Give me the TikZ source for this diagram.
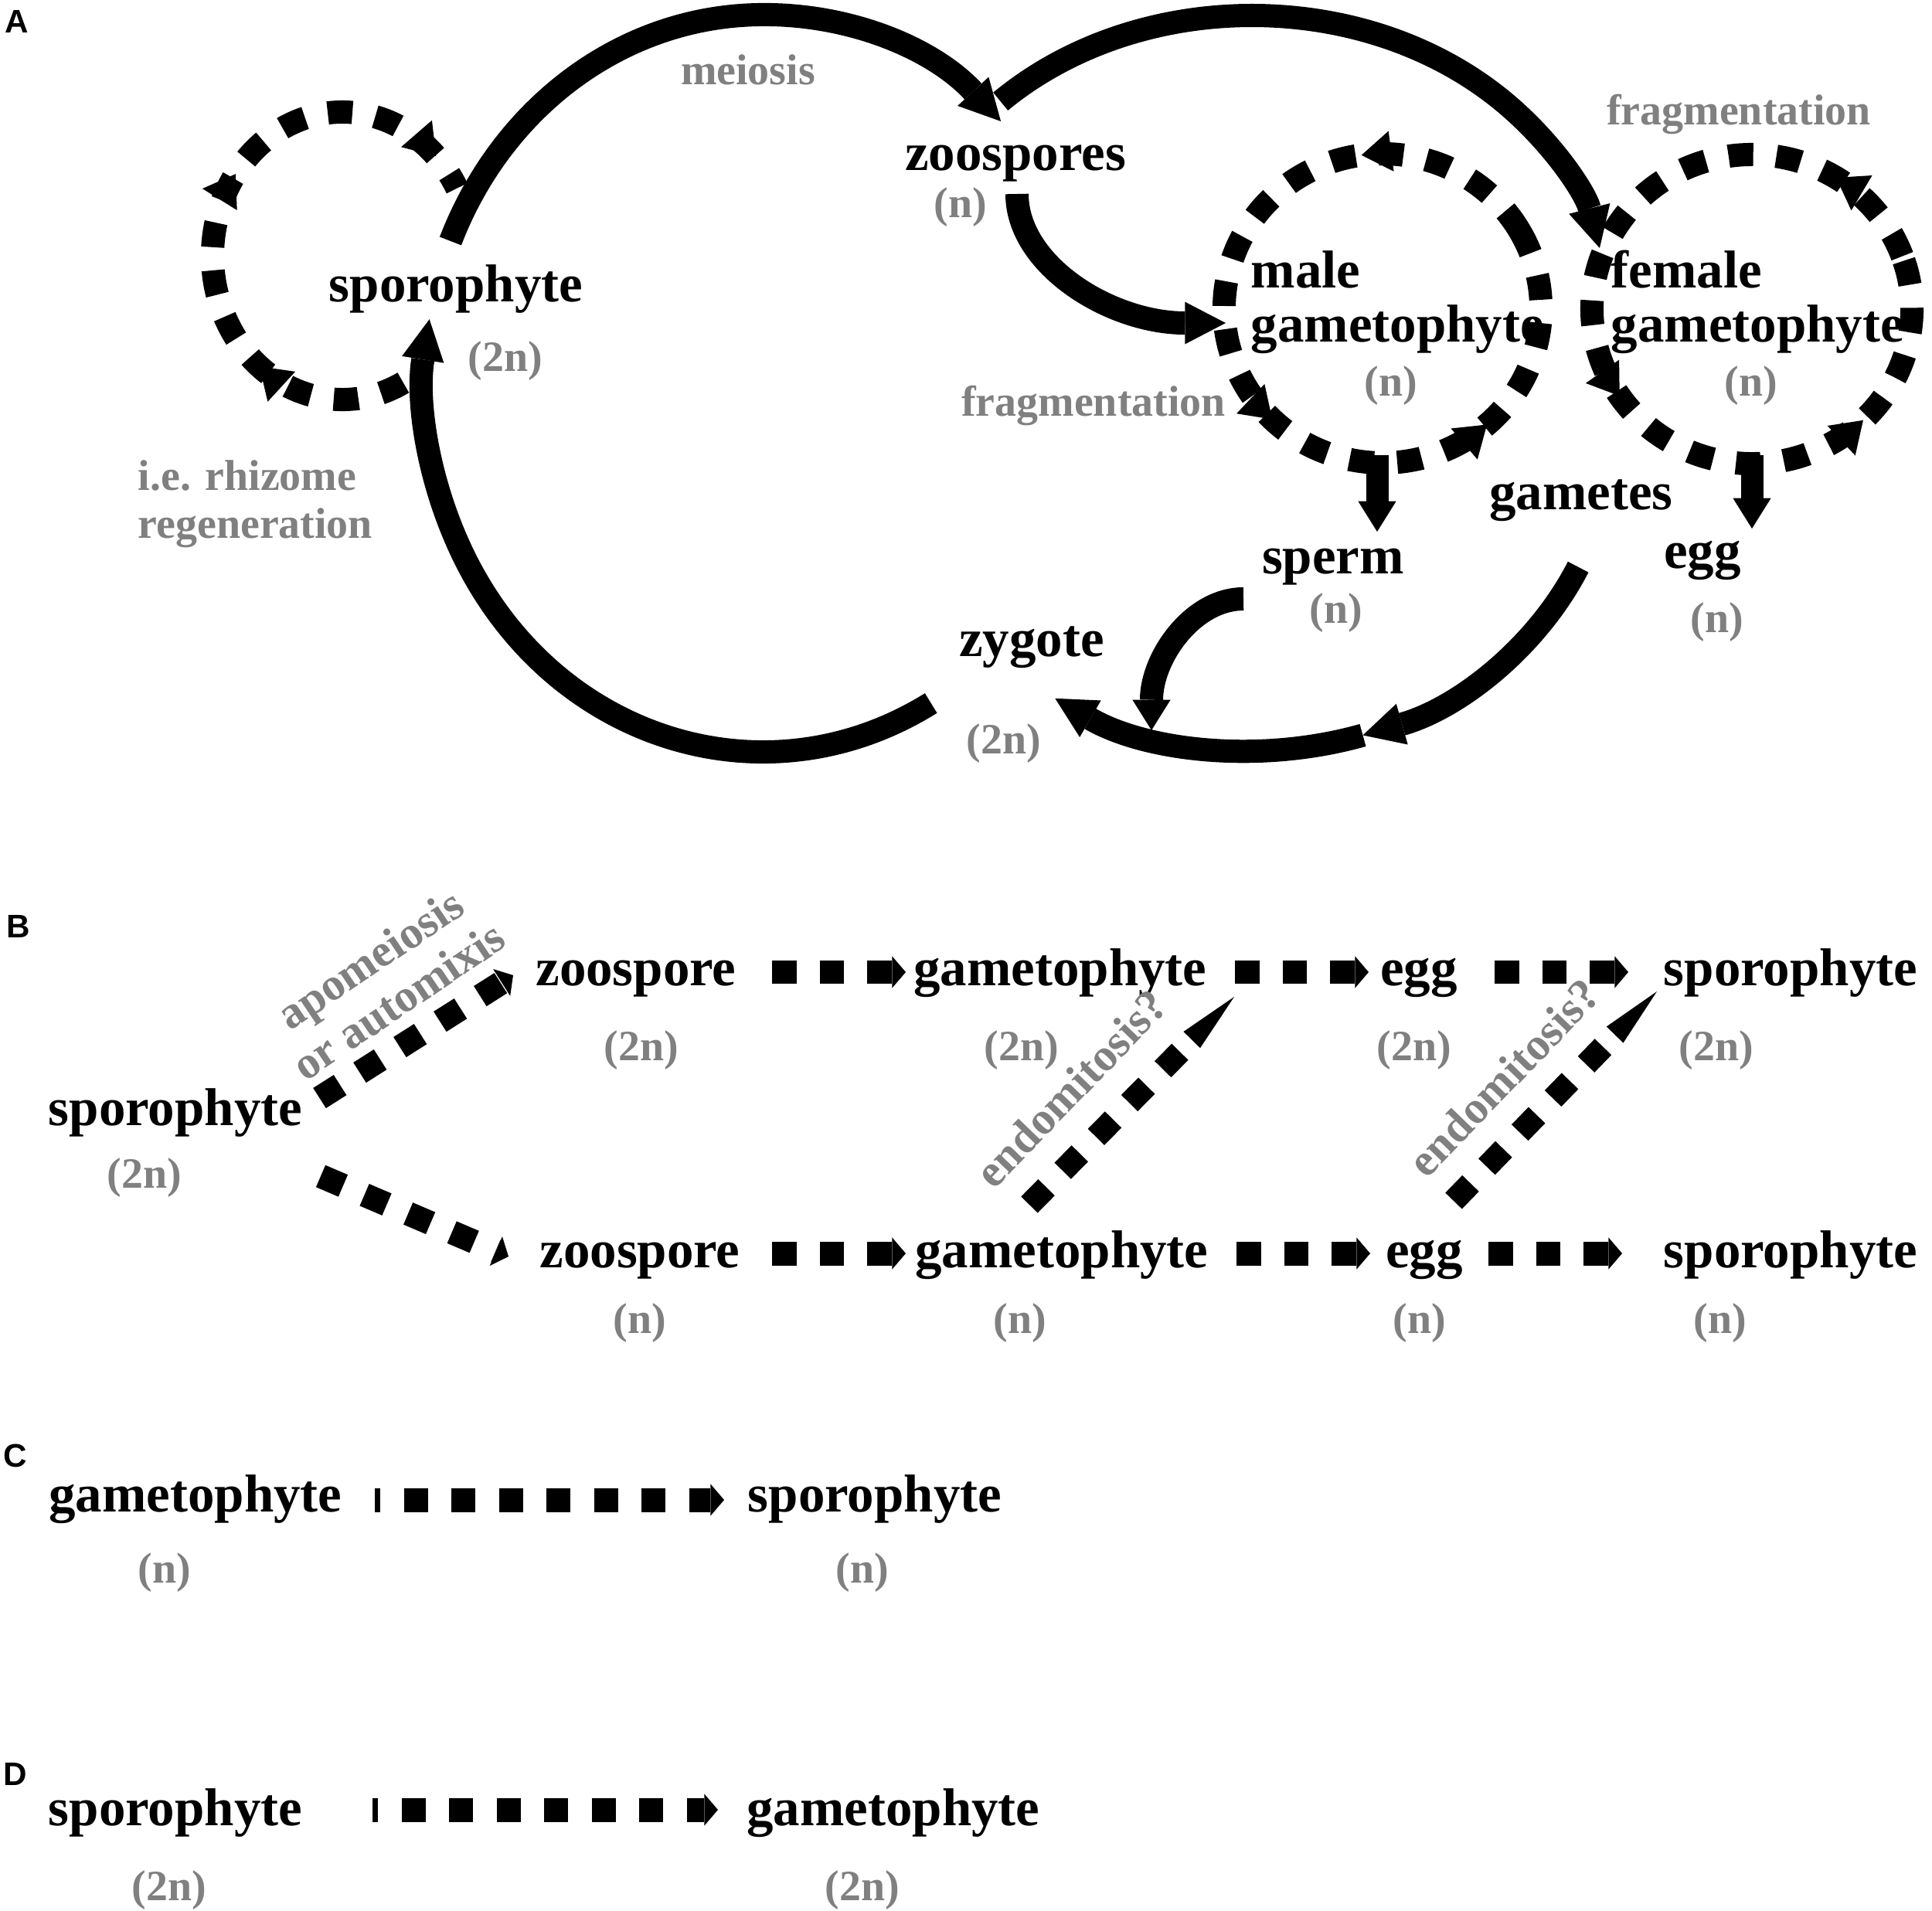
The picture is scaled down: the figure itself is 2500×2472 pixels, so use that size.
\documentclass[tikz,border=0pt]{standalone}
\usepackage{fontspec}
\setmainfont{Liberation Serif}
\newfontfamily\panelfont{Liberation Sans}
\usetikzlibrary{arrows.meta,decorations.markings}
\definecolor{lbl}{RGB}{128,128,128}
\tikzset{
  main/.style={font=\fontsize{19.6pt}{22pt}\selectfont\bfseries, inner sep=0pt, anchor=base},
  note/.style={font=\fontsize{15.9pt}{18pt}\selectfont\bfseries, text=lbl, inner sep=0pt, anchor=base},
  slanted note/.style={font=\fontsize{16.8pt}{18.5pt}\selectfont\bfseries, text=lbl, inner sep=0pt, anchor=center},
  panel/.style={font=\panelfont\fontsize{12pt}{14pt}\selectfont\bfseries, inner sep=0pt, anchor=base west},
  bigtip/.tip={Triangle[length=15pt,width=15.6pt,line width=0pt]},
  smalltip/.tip={Triangle[length=11.2pt,width=14pt,line width=0pt]},
  ringtip/.tip={Triangle[length=11pt,width=15pt,line width=0pt]},
  flattip/.tip={Triangle[length=5pt,width=11.7pt,line width=0pt]},
  longtip/.tip={Triangle[length=22.2pt,width=8.6pt,line width=0pt]},
  cyclearc/.style={line width=8.54pt, -{bigtip}},
  shortarc/.style={line width=8.54pt, -{smalltip}},
  release/.style={line width=8.25pt, -{smalltip}},
  ring/.style={line width=8.54pt, dash pattern=on 9.1pt off 8.54pt},
  ringmarks/.style n args={3}{postaction={decorate}, decoration={markings,
      mark=at position #1 with {\arrow{ringtip}},
      mark=at position #2 with {\arrow{ringtip}},
      mark=at position #3 with {\arrow{ringtip}}}},
  sqdash/.style={line width=8.8pt, dash pattern=on 8.96pt off 8.54pt, -{flattip}},
  endodash/.style={line width=8.54pt, dash pattern=on 8.96pt off 8.54pt, -{longtip}},
  longdash/.style={line width=8.8pt, dash pattern=on 8.82pt off 8.68pt, dash phase=6.83pt, -{flattip}},
}
\begin{document}
\begin{tikzpicture}[x=0.01cm, y=-0.01cm]
\useasboundingbox[fill=white] (0,0) rectangle (2500,2472);

% ---------- Panel A geometry ----------
\coordinate (E1) at (987,496);
\coordinate (E2) at (1620,400);
\coordinate (E3) at (1621,571);
\coordinate (E4) at (1586,251);
\coordinate (E5) at (1609,945);
\coordinate (L1) at (443,331);
\coordinate (M1) at (1789,399);
\coordinate (F1) at (2267,400);

% dashed regeneration / fragmentation loops
\draw[ring, ringmarks={0.243}{0.571}{0.94}] (L1) ++(62:168 and 186)
  arc[start angle=62, end angle=332, x radius=168, y radius=186];
\draw[ring, ringmarks={0.189}{0.544}{0.783}] (M1) ++(330:205 and 200)
  arc[start angle=330, end angle=-30, x radius=205, y radius=200];
\draw[ring, ringmarks={0.106}{0.539}{0.819}] (F1) ++(340:207 and 200)
  arc[start angle=340, end angle=-20, x radius=207, y radius=200];

% solid life-cycle arrows
\draw[cyclearc] (E1) ++(202.7:438 and 477)
  arc[start angle=202.7, end angle=314.7, x radius=438, y radius=477];
\draw[cyclearc] (E1) ++(60.2:438 and 477)
  arc[start angle=60.2, end angle=190, x radius=438, y radius=477];
\draw[cyclearc] (E2) ++(225:460 and 380)
  arc[start angle=225, end angle=348, x radius=460, y radius=380];
\draw[cyclearc] (E4) ++(180:270 and 167)
  arc[start angle=180, end angle=90, x radius=270, y radius=167];
\draw[cyclearc] (E3) ++(24:461 and 400)
  arc[start angle=24, end angle=72, x radius=461, y radius=400];
\draw[cyclearc] (E3) ++(72:461 and 400)
  arc[start angle=72, end angle=123.7, x radius=461, y radius=400];
\draw[shortarc] (E5) ++(270:119 and 170)
  arc[start angle=270, end angle=180, x radius=119, y radius=170];

\coordinate (mdown) at (1782,589); \coordinate (mtip) at (1782,688);
\coordinate (fdown) at (2267,589); \coordinate (ftip) at (2267,684);
\draw[release] (mdown) -- (mtip);
\draw[release] (fdown) -- (ftip);

% ---------- Panel A text ----------
\node[panel] (pA) at (6,42) {A};
\node[note] (meio) at (968,109) {meiosis};
\node[main] (zoos) at (1314,220) {zoospores};
\node[note] (zoosn) at (1243,281) {(n)};
\node[main] (sporA) at (590,390) {sporophyte};
\node[note] (sporAn) at (654,480) {(2n)};
\node[note, anchor=base west] (rhiz1) at (178,634) {i.e. rhizome};
\node[note, anchor=base west] (rhiz2) at (178,696) {regeneration};
\node[main, anchor=base west] (maleA) at (1618,372) {male};
\node[main, anchor=base west] (maleB) at (1618,442) {gametophyte};
\node[note] (malen) at (1800,512) {(n)};
\node[main, anchor=base west] (femA) at (2084,372) {female};
\node[main, anchor=base west] (femB) at (2084,442) {gametophyte};
\node[note] (femn) at (2266,512) {(n)};
\node[note] (fragT) at (2250,161) {fragmentation};
\node[note] (fragL) at (1415,538) {fragmentation};
\node[main] (gam) at (2046,659) {gametes};
\node[main] (sperm) at (1725,742) {sperm};
\node[note] (spermn) at (1729,806) {(n)};
\node[main] (egg) at (2203,735) {egg};
\node[note] (eggn) at (2222,818) {(n)};
\node[main] (zyg) at (1335,849) {zygote};
\node[note] (zygn) at (1299,975) {(2n)};

% ---------- Panel B ----------
\node[panel] (pB) at (8,1213) {B};
\node[main] (sB) at (227,1456) {sporophyte};
\node[note] (sBn) at (187,1537) {(2n)};
\node[main] (zU) at (823,1275) {zoospore};
\node[note] (zUn) at (830,1372) {(2n)};
\node[main] (gU) at (1372,1275) {gametophyte};
\node[note] (gUn) at (1322,1372) {(2n)};
\node[main] (eU) at (1836,1275) {egg};
\node[note] (eUn) at (1830,1372) {(2n)};
\node[main] (sU) at (2317,1275) {sporophyte};
\node[note] (sUn) at (2221,1372) {(2n)};
\node[main] (zL) at (828,1640) {zoospore};
\node[note] (zLn) at (828,1725) {(n)};
\node[main] (gL) at (1374,1640) {gametophyte};
\node[note] (gLn) at (1320,1725) {(n)};
\node[main] (eL) at (1843,1640) {egg};
\node[note] (eLn) at (1837,1725) {(n)};
\node[main] (sL) at (2317,1640) {sporophyte};
\node[note] (sLn) at (2226,1725) {(n)};
\node[slanted note, rotate=34, align=center] (apo) at (497,1268) {apomeiosis\\or automixis};
\node[slanted note, rotate=46] (endo1) at (1386,1408) {endomitosis?};
\node[slanted note, rotate=46] (endo2) at (1946,1394) {endomitosis?};

\coordinate (b1s) at (413.5,1421); \coordinate (b1e) at (664,1262);
\coordinate (b2s) at (415,1522);   \coordinate (b2e) at (658,1626);
\coordinate (b3s) at (999,1258);   \coordinate (b3e) at (1172,1258);
\coordinate (b4s) at (1598,1258);  \coordinate (b4e) at (1771,1258);
\coordinate (b5s) at (1934,1258);  \coordinate (b5e) at (2107,1258);
\coordinate (b6s) at (999,1622);   \coordinate (b6e) at (1172,1622);
\coordinate (b7s) at (1600,1622);  \coordinate (b7e) at (1773,1622);
\coordinate (b8s) at (1926,1622);  \coordinate (b8e) at (2099,1622);
\coordinate (n1s) at (1332,1559);  \coordinate (n1e) at (1597,1290);
\coordinate (n2s) at (1881,1554);  \coordinate (n2e) at (2144,1283);
\draw[sqdash] (b1s) -- (b1e);
\draw[sqdash] (b2s) -- (b2e);
\draw[sqdash] (b3s) -- (b3e);
\draw[sqdash] (b4s) -- (b4e);
\draw[sqdash] (b5s) -- (b5e);
\draw[sqdash] (b6s) -- (b6e);
\draw[sqdash] (b7s) -- (b7e);
\draw[sqdash] (b8s) -- (b8e);
\draw[endodash] (n1s) -- (n1e);
\draw[endodash] (n2s) -- (n2e);

% ---------- Panel C ----------
\node[panel] (pC) at (4,1898) {C};
\node[main] (gC) at (253,1956) {gametophyte};
\node[note] (gCn) at (213,2048) {(n)};
\node[main] (sC) at (1132,1956) {sporophyte};
\node[note] (sCn) at (1116,2048) {(n)};
\coordinate (c1s) at (485,1941); \coordinate (c1e) at (937,1941);
\draw[longdash] (c1s) -- (c1e);

% ---------- Panel D ----------
\node[panel] (pD) at (4,2310) {D};
\node[main] (sD) at (227,2362) {sporophyte};
\node[note] (sDn) at (219,2459) {(2n)};
\node[main] (gD) at (1156,2362) {gametophyte};
\node[note] (gDn) at (1116,2459) {(2n)};
\coordinate (d1s) at (482,2342); \coordinate (d1e) at (929,2342);
\draw[longdash] (d1s) -- (d1e);
\end{tikzpicture}
\end{document}
